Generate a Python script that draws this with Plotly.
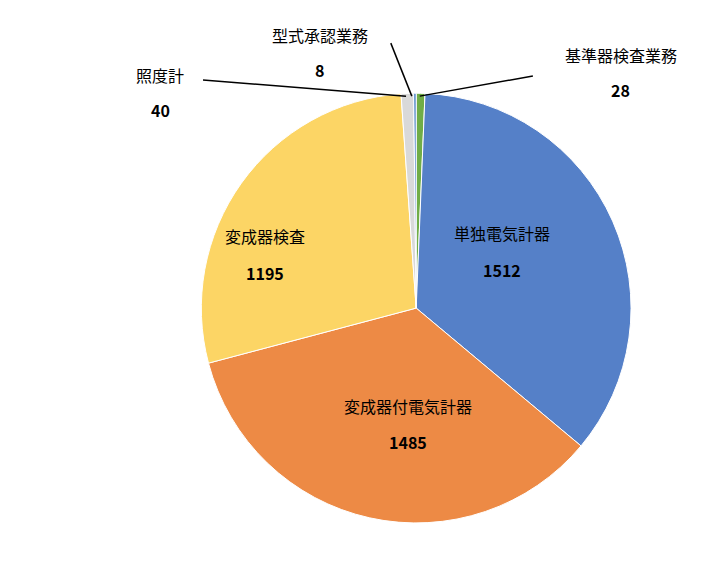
import plotly.graph_objects as go

labels = ["基準器検査業務", "単独電気計器", "変成器付電気計器", "変成器検査", "照度計", "型式承認業務"]
values = [28, 1512, 1485, 1195, 40, 8]
colors = ["#70AD47", "#5580C8", "#ED8A45", "#FCD565", "#D9D9D9", "#4F86C6"]

fig = go.Figure(go.Pie(
    labels=labels, values=values, sort=False, direction="clockwise", rotation=0,
    marker=dict(colors=colors, line=dict(color="white", width=1)),
    textinfo="none", hoverinfo="label+value",
    domain=dict(x=[0.266, 0.86], y=[0.106, 0.852]),
))

lab_pos = {
    "基準器検査業務": (0.845, 0.918, 0.858),
    "単独電気計器": (0.681, 0.609, 0.545),
    "変成器付電気計器": (0.552, 0.309, 0.247),
    "変成器検査": (0.355, 0.604, 0.54),
    "照度計": (0.21, 0.884, 0.823),
    "型式承認業務": (0.43, 0.953, 0.892),
}
ann = []
for lab, v in zip(labels, values):
    x, y1, y2 = lab_pos[lab]
    for txt, yy in ((lab, y1), ("<b>%d</b>" % v, y2)):
        ann.append(dict(x=x, y=yy, xref="paper", yref="paper", text=txt, showarrow=False,
                        xanchor="center", yanchor="middle",
                        font=dict(size=16, color="black")))

ln = dict(color="black", width=1.5)
shapes = [
    dict(type="line", xref="paper", yref="paper", x0=0.724, y0=0.882, x1=0.568, y1=0.847, line=ln),
    dict(type="line", xref="paper", yref="paper", x0=0.528, y0=0.939, x1=0.557, y1=0.847, line=ln),
    dict(type="line", xref="paper", yref="paper", x0=0.269, y0=0.875, x1=0.549, y1=0.847, line=ln),
]

fig.update_layout(width=725, height=576, margin=dict(l=0, r=0, t=0, b=0),
                  paper_bgcolor="white", showlegend=False,
                  font=dict(family="Noto Sans CJK JP"),
                  annotations=ann, shapes=shapes)
fig.write_html("out.html")
